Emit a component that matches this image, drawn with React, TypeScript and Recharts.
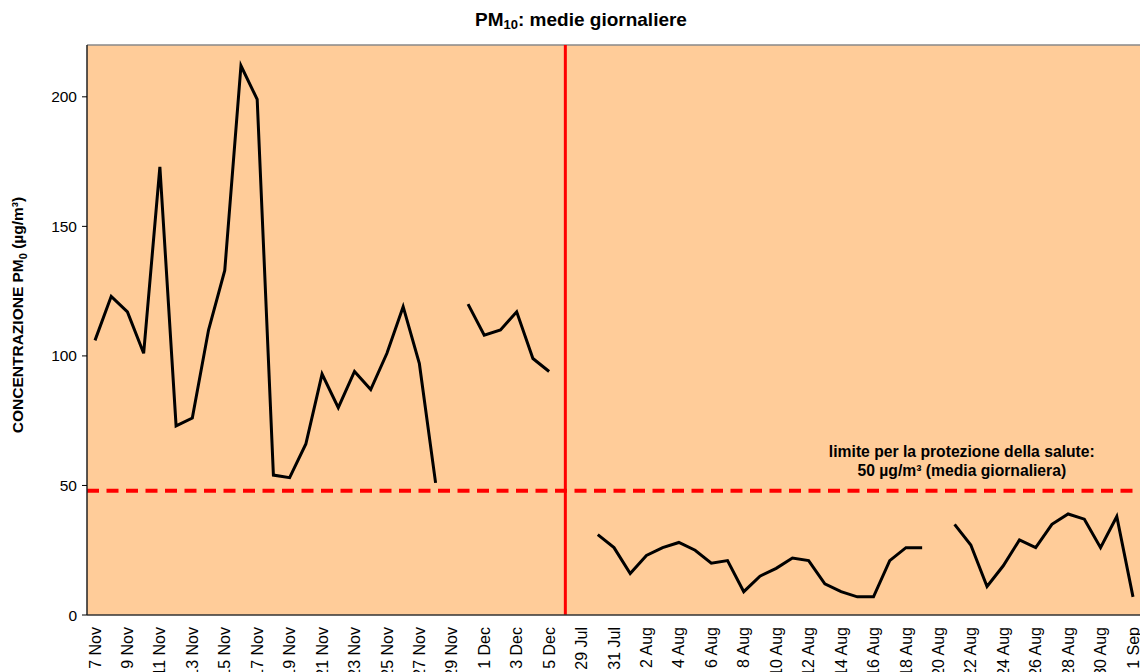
import {
    CartesianGrid,
    Line,
    LineChart,
    ReferenceLine,
    XAxis,
    YAxis,
} from 'recharts'

// Giorni della prima campagna (novembre–dicembre)
const novDecDays = [
    '7 Nov', '8 Nov', '9 Nov', '10 Nov', '11 Nov', '12 Nov', '13 Nov', '14 Nov',
    '15 Nov', '16 Nov', '17 Nov', '18 Nov', '19 Nov', '20 Nov', '21 Nov', '22 Nov',
    '23 Nov', '24 Nov', '25 Nov', '26 Nov', '27 Nov', '28 Nov', '29 Nov', '30 Nov',
    '1 Dec', '2 Dec', '3 Dec', '4 Dec', '5 Dec',
]
const novDecPm10: (number | null)[] = [
    106, 123, 117, 101, 173, 73, 76, 110, 133, 212, 199, 54, 53, 66, 93, 80,
    94, 87, 101, 119, 97, 51, null, 120, 108, 110, 117, 99, 94,
]

// Separatore tra le due campagne (linea rossa verticale)
const SEPARATOR = ' '

// Giorni della seconda campagna (luglio–settembre)
const julSepDays = [
    '29 Jul', '30 Jul', '31 Jul', '1 Aug', '2 Aug', '3 Aug', '4 Aug', '5 Aug',
    '6 Aug', '7 Aug', '8 Aug', '9 Aug', '10 Aug', '11 Aug', '12 Aug', '13 Aug',
    '14 Aug', '15 Aug', '16 Aug', '17 Aug', '18 Aug', '19 Aug', '20 Aug', '21 Aug',
    '22 Aug', '23 Aug', '24 Aug', '25 Aug', '26 Aug', '27 Aug', '28 Aug', '29 Aug',
    '30 Aug', '31 Aug', '1 Sep',
]
const julSepPm10: (number | null)[] = [
    null, 31, 26, 16, 23, 26, 28, 25, 20, 21, 9, 15, 18, 22, 21, 12,
    9, 7, 7, 21, 26, 26, null, 35, 27, 11, 19, 29, 26, 35, 39, 37,
    26, 38, 7,
]

const yTicks = [0, 50, 100, 150, 200]
const LIMIT = 48 // linea tratteggiata come disegnata
const Y_MAX = 220

const data = [
    ...novDecDays.map((day, i) => ({ day, pm10: novDecPm10[i] })),
    { day: SEPARATOR, pm10: null },
    ...julSepDays.map((day, i) => ({ day, pm10: julSepPm10[i] })),
]

const FONT = '"Liberation Sans", Arial, Helvetica, sans-serif'

function DayTick({ x, y, payload }: any) {
    const ty = y + 4
    return (
        <text
            x={x}
            y={ty}
            transform={`rotate(-90, ${x}, ${ty})`}
            textAnchor="end"
            dy="0.35em"
            fontSize={16}
            fontFamily={FONT}
            fill="#000"
        >
            {payload.value}
        </text>
    )
}

function LimitLabel({ viewBox }: any) {
    const cx = viewBox.x + viewBox.width * 0.83
    const y = viewBox.y
    return (
        <text
            textAnchor="middle"
            fontSize={15.7}
            fontWeight="bold"
            fontFamily={FONT}
            fill="#000"
        >
            <tspan x={cx} y={y - 34}>
                limite per la protezione della salute:
            </tspan>
            <tspan x={cx} y={y - 15}>
                50 µg/m³ (media giornaliera)
            </tspan>
        </text>
    )
}

function YTitle() {
    return (
        <text
            transform="rotate(-90)"
            x={-315}
            y={23}
            textAnchor="middle"
            fontSize={15.5}
            fontWeight="bold"
            fontFamily={FONT}
            fill="#000"
        >
            CONCENTRAZIONE PM
            <tspan fontSize={11} dy={4}>0</tspan>
            <tspan dy={-4}> (µg/m³)</tspan>
        </text>
    )
}

export default function App() {
    return (
        <div
            style={{
                position: 'absolute',
                left: 0,
                top: 0,
                width: 1160,
                height: 720,
                background: '#fff',
                fontFamily: FONT,
            }}
        >
            <div
                style={{
                    position: 'absolute',
                    left: 0,
                    width: 1162,
                    top: 8,
                    textAlign: 'center',
                    fontSize: 19,
                    fontWeight: 'bold',
                    lineHeight: '23px',
                    color: '#000',
                }}
            >
                PM
                <sub style={{ fontSize: 13, verticalAlign: -3 }}>10</sub>: medie giornaliere
            </div>
            <LineChart
                width={1160}
                height={720}
                data={data}
                margin={{ top: 45, right: 19, bottom: 0, left: 0 }}
            >
                <CartesianGrid
                    fill="#FFCC99"
                    horizontal={false}
                    vertical={false}
                />
                <XAxis
                    dataKey="day"
                    height={105}
                    interval={1}
                    tickLine={false}
                    axisLine={{ stroke: '#333', strokeWidth: 1.5 }}
                    padding={{ left: 8, right: 8 }}
                    tick={<DayTick />}
                />
                <YAxis
                    width={87}
                    domain={[0, Y_MAX]}
                    ticks={yTicks}
                    tickSize={5}
                    tickMargin={5}
                    tickLine={{ stroke: '#000' }}
                    axisLine={{ stroke: '#222', strokeWidth: 1.5 }}
                    tick={{ fontSize: 15.5, fill: '#000', fontFamily: FONT }}
                    label={<YTitle />}
                />
                <ReferenceLine y={Y_MAX} stroke="#888" strokeWidth={1.5} />
                <ReferenceLine x={SEPARATOR} stroke="#FF0000" strokeWidth={3} />
                <ReferenceLine
                    y={LIMIT}
                    stroke="#FF0000"
                    strokeWidth={4}
                    strokeDasharray="12 7.5"
                    label={<LimitLabel />}
                />
                <Line
                    type="linear"
                    dataKey="pm10"
                    stroke="#000"
                    strokeWidth={3}
                    dot={false}
                    activeDot={false}
                    connectNulls={false}
                    isAnimationActive={false}
                />
            </LineChart>
        </div>
    )
}
